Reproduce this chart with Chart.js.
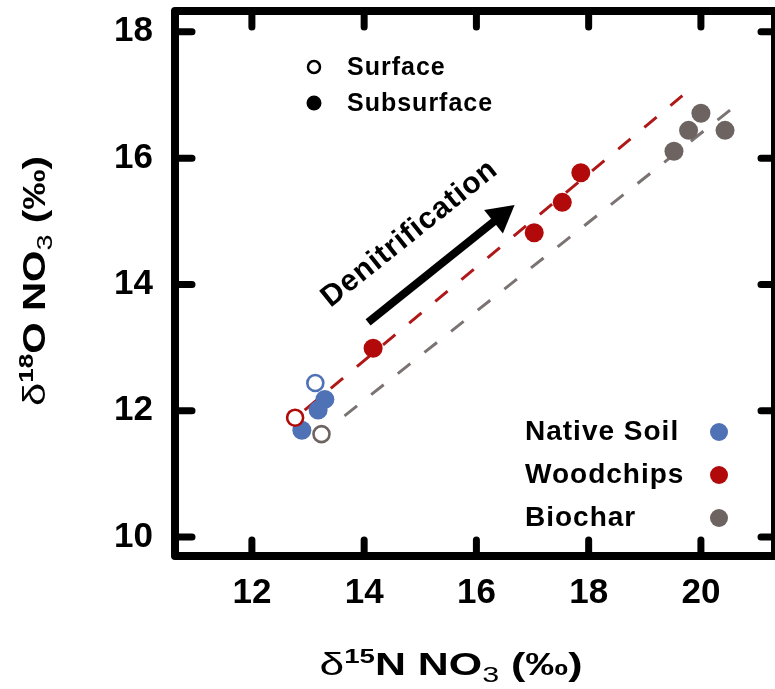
<!DOCTYPE html>
<html>
<head>
<meta charset="utf-8">
<script src="https://cdn.jsdelivr.net/npm/chart.js@4.4.1/dist/chart.umd.min.js"></script>
<style>
  html, body { margin: 0; padding: 0; background: #fff; }
  #wrap { width: 775px; height: 689px; }
</style>
</head>
<body>
<div id="wrap"><canvas id="isoChart" width="775" height="689"></canvas></div>
<script>
const xTicks = [12, 14, 16, 18, 20];
const yTicks = [10, 12, 14, 16, 18];
const xRange = [10.63, 21.32];
const yRange = [9.70, 18.33];

// Native soil
const soilSurfX = [13.13];
const soilSurfY = [12.44];
const soilSubX = [13.30, 13.18, 12.89];
const soilSubY = [12.18, 12.01, 11.69];
// Woodchips
const woodSurfX = [12.77];
const woodSurfY = [11.89];
const woodSubX = [14.16, 17.03, 17.53, 17.86];
const woodSubY = [12.99, 14.82, 15.30, 15.77];
// Biochar
const charSurfX = [13.24];
const charSurfY = [11.63];
const charSubX = [19.52, 19.78, 20.00, 20.43];
const charSubY = [16.11, 16.44, 16.71, 16.44];
// dashed trend lines (start, end)
const woodFitX = [12.94, 19.67];
const woodFitY = [12.01, 16.99];
const charFitX = [13.65, 20.59];
const charFitY = [11.92, 16.81];
// denitrification arrow (tail, tip)
const arrowX = [14.07, 16.68];
const arrowY = [13.40, 15.26];

const groupNames = ["Native Soil", "Woodchips", "Biochar"];
const depthNames = ["Surface", "Subsurface"];

const BLUE = "#4f71b5";
const RED = "#b20a0a";
const GRAY = "#6d6462";
const FONT = "'Liberation Sans', Arial, Helvetica, sans-serif";

function pts(xs, ys) {
    return xs.map((x, i) => ({ x: x, y: ys[i] }));
}

function openSet(xs, ys, color) {
    return {
        data: pts(xs, ys),
        backgroundColor: "#fff",
        borderColor: color,
        borderWidth: 2.6,
        pointRadius: 8,
        order: 1
    };
}

function filledSet(xs, ys, color) {
    return {
        data: pts(xs, ys),
        backgroundColor: color,
        borderColor: color,
        borderWidth: 0,
        pointRadius: 9.5,
        order: 2
    };
}

function fitSet(xs, ys, color) {
    return {
        data: pts(xs, ys),
        showLine: true,
        borderColor: color,
        borderWidth: 3,
        borderDash: [16, 18],
        pointRadius: 0,
        order: 5
    };
}

// draws mixed-font text centred at cx, stretched to the width of the original
function drawRich(ctx, segs, cx, baseY, targetW) {
    let natural = 0;
    segs.forEach(s => {
        ctx.font = s.font;
        s.w = ctx.measureText(s.t).width;
        natural += s.w;
    });
    const sx = targetW ? targetW / natural : 1;
    ctx.save();
    ctx.translate(cx - natural * sx / 2, baseY);
    ctx.scale(sx, 1);
    let x = 0;
    segs.forEach(s => {
        ctx.font = s.font;
        ctx.fillText(s.t, x, s.dy || 0);
        x += s.w;
    });
    ctx.restore();
}

const decorations = {
    id: "decorations",
    afterDraw(chart) {
        const ctx = chart.ctx;
        const a = chart.chartArea;
        const xs = chart.scales.x;
        const ys = chart.scales.y;
        ctx.save();
        ctx.strokeStyle = "#000";
        ctx.fillStyle = "#000";

        // frame
        ctx.lineWidth = 8;
        ctx.lineJoin = "round";
        ctx.strokeRect(a.left, a.top, a.right - a.left, a.bottom - a.top);

        // inward ticks on all four sides
        ctx.lineWidth = 7;
        ctx.lineCap = "round";
        xTicks.forEach(v => {
            const px = xs.getPixelForValue(v);
            ctx.beginPath();
            ctx.moveTo(px, a.bottom); ctx.lineTo(px, a.bottom - 16);
            ctx.moveTo(px, a.top); ctx.lineTo(px, a.top + 16);
            ctx.stroke();
        });
        yTicks.forEach(v => {
            const py = ys.getPixelForValue(v);
            ctx.beginPath();
            ctx.moveTo(a.left, py); ctx.lineTo(a.left + 17, py);
            ctx.moveTo(a.right, py); ctx.lineTo(a.right - 14, py);
            ctx.stroke();
        });

        // arrow
        const x0 = xs.getPixelForValue(arrowX[0]), y0 = ys.getPixelForValue(arrowY[0]);
        const x1 = xs.getPixelForValue(arrowX[1]), y1 = ys.getPixelForValue(arrowY[1]);
        const ang = Math.atan2(y1 - y0, x1 - x0);
        const headLen = 27, headW = 15;
        const bx = x1 - headLen * Math.cos(ang), by = y1 - headLen * Math.sin(ang);
        ctx.lineCap = "butt";
        ctx.lineWidth = 8;
        ctx.beginPath();
        ctx.moveTo(x0, y0); ctx.lineTo(bx + 2 * Math.cos(ang), by + 2 * Math.sin(ang));
        ctx.stroke();
        ctx.beginPath();
        ctx.moveTo(x1, y1);
        ctx.lineTo(bx + headW * Math.sin(ang), by - headW * Math.cos(ang));
        ctx.lineTo(bx - headW * Math.sin(ang), by + headW * Math.cos(ang));
        ctx.closePath();
        ctx.fill();

        // "Denitrification" label along the arrow
        const mx = (x0 + x1) / 2 + 43 * Math.sin(ang) - 6 * Math.cos(ang);
        const my = (y0 + y1) / 2 - 43 * Math.cos(ang) - 6 * Math.sin(ang);
        ctx.save();
        ctx.translate(mx, my);
        ctx.rotate(ang);
        ctx.font = "bold 30px " + FONT;
        ctx.letterSpacing = "1px";
        ctx.textAlign = "center";
        ctx.textBaseline = "middle";
        ctx.fillText("Denitrification", 0, 0);
        ctx.restore();

        // depth legend (top)
        ctx.font = "bold 25px " + FONT;
        ctx.letterSpacing = "1px";
        ctx.textAlign = "left";
        ctx.textBaseline = "middle";
        ctx.lineWidth = 2.5;
        ctx.beginPath();
        ctx.arc(a.left + 139, a.top + 56, 6, 0, Math.PI * 2);
        ctx.stroke();
        ctx.fillText(depthNames[0], a.left + 172, a.top + 57);
        ctx.beginPath();
        ctx.arc(a.left + 139, a.top + 92, 7.5, 0, Math.PI * 2);
        ctx.fill();
        ctx.fillText(depthNames[1], a.left + 172, a.top + 93);

        // material legend (bottom right)
        const colors = [BLUE, RED, GRAY];
        ctx.font = "bold 28px " + FONT;
        groupNames.forEach((name, i) => {
            const ly = a.top + 421 + i * 43;
            ctx.fillStyle = "#000";
            ctx.fillText(name, a.left + 350, ly);
            ctx.fillStyle = colors[i];
            ctx.beginPath();
            ctx.arc(a.left + 544, ly, 9, 0, Math.PI * 2);
            ctx.fill();
        });
        ctx.letterSpacing = "0px";

        // axis titles
        ctx.fillStyle = "#000";
        ctx.textAlign = "left";
        ctx.textBaseline = "alphabetic";
        const titleX = [
            { t: "\u03b4", font: "32px " + FONT },
            { t: "15", font: "bold 20px " + FONT, dy: -12 },
            { t: "N NO", font: "bold 31px " + FONT },
            { t: "3", font: "22px " + FONT, dy: 7 },
            { t: " (\u2030)", font: "bold 31px " + FONT }
        ];
        drawRich(ctx, titleX, 451, 675, 263);

        const titleY = [
            { t: "\u03b4", font: "32px " + FONT },
            { t: "18", font: "bold 20px " + FONT, dy: -12 },
            { t: "O NO", font: "bold 31px " + FONT },
            { t: "3", font: "22px " + FONT, dy: 7 },
            { t: " (\u2030)", font: "bold 31px " + FONT }
        ];
        ctx.save();
        ctx.translate(45, 281);
        ctx.rotate(-Math.PI / 2);
        drawRich(ctx, titleY, 0, 0, 250);
        ctx.restore();

        ctx.restore();
    }
};

const tickFont = { family: FONT, size: 35, weight: "bold" };

new Chart(document.getElementById("isoChart"), {
    type: "scatter",
    data: {
        datasets: [
            fitSet(woodFitX, woodFitY, "#b01818"),
            fitSet(charFitX, charFitY, "#7a7372"),
            openSet(soilSurfX, soilSurfY, BLUE),
            filledSet(soilSubX, soilSubY, BLUE),
            openSet(woodSurfX, woodSurfY, RED),
            filledSet(woodSubX, woodSubY, RED),
            openSet(charSurfX, charSurfY, GRAY),
            filledSet(charSubX, charSubY, GRAY)
        ]
    },
    options: {
        responsive: false,
        animation: false,
        layout: { autoPadding: false, padding: { top: 11, right: 0, left: 0, bottom: 0 } },
        plugins: {
            legend: { display: false },
            tooltip: { enabled: false }
        },
        scales: {
            x: {
                type: "linear",
                min: xRange[0],
                max: xRange[1],
                afterBuildTicks: s => { s.ticks = xTicks.map(v => ({ value: v })); },
                afterFit: s => { s.height = 133; s.paddingLeft = 0; s.paddingRight = 0; },
                grid: { display: false, drawTicks: false },
                border: { display: false },
                ticks: { color: "#000", font: tickFont, padding: 16, maxRotation: 0 }
            },
            y: {
                type: "linear",
                min: yRange[0],
                max: yRange[1],
                afterBuildTicks: s => { s.ticks = yTicks.map(v => ({ value: v })); },
                afterFit: s => { s.width = 175; s.paddingTop = 0; s.paddingBottom = 0; },
                grid: { display: false, drawTicks: false },
                border: { display: false },
                ticks: { color: "#000", font: tickFont, padding: 22 }
            }
        }
    },
    plugins: [decorations]
});
</script>
</body>
</html>
